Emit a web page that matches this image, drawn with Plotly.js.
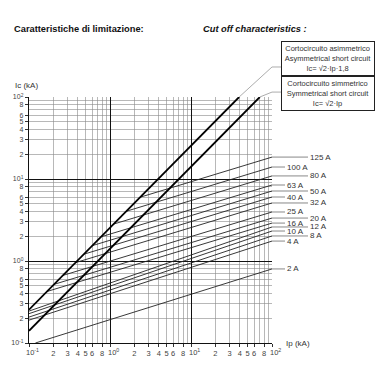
<!DOCTYPE html>
<html><head><meta charset="utf-8">
<script src="https://cdn.plot.ly/plotly-3.0.1.min.js"></script>
<style>body{margin:0;background:#fff}#c{width:380px;height:380px}</style>
</head><body><div id="c"></div>
<script>
// ---- data ----
const fuseNames = ['2 A','4 A','8 A','10 A','12 A','16 A','20 A','25 A','32 A','40 A','50 A','63 A','80 A','100 A','125 A'];
const fuseStartIp = [0.12, 0.1, 0.1, 0.1, 0.1, 0.167, 0.205, 0.262, 0.375, 0.476, 0.606, 0.772, 1.109, 1.586, 2.36];
const fuseStartIc = [0.1, 0.19, 0.207, 0.228, 0.245, 0.425, 0.52, 0.667, 0.955, 1.21, 1.54, 1.97, 2.82, 4.04, 6.0];
const fuseEndIp   = [100,100,100,100,100,100,100,100,100,100,100,100,100,100,100];
const fuseEndIc   = [0.80, 1.75, 2.02, 2.32, 2.60, 2.90, 3.34, 3.96, 5.10, 6.03, 7.14, 8.45, 10.9, 14.0, 18.5];
const labelColumn = [1, 1, 2, 1, 2, 1, 2, 1, 2, 1, 2, 1, 2, 1, 2];
const asymIp = [0.1, 39.3], asymIc = [0.255, 100];
const symIp  = [0.1, 70.7], symIc  = [0.141, 100];
const xTickVals = [0.2,0.3,0.4,0.5,0.6,0.8,2,3,4,5,6,8,20,30,40,50,60,80];
const xTickText = ['2','3','4','5','6','8','2','3','4','5','6','8','2','3','4','5','6','8'];
const yTickVals = [0.1,0.2,0.3,0.4,0.5,0.6,0.8,1,2,3,4,5,6,8,10,20,30,40,50,60,80,100];
const yTickText = ['10<sup>-1</sup>','2','3','4','5','6','8','10<sup>0</sup>','2','3','4','5','6','8','10<sup>1</sup>','2','3','4','5','6','8','10<sup>2</sup>'];
const minorVals = [0.7, 0.9, 7, 9, 70, 90];
const decadeVals = [0.1, 1, 10, 100];
const decadeText = ['10<sup>-1</sup>','10<sup>0</sup>','10<sup>1</sup>','10<sup>2</sup>'];

const F = 'Liberation Sans, Arial, sans-serif';
const traces = [{x:[0.1], y:[0.1], xaxis:'x2', yaxis:'y2', mode:'markers', marker:{opacity:0}, hoverinfo:'skip', showlegend:false}];
for (let i = 0; i < fuseNames.length; i++) {
  traces.push({x:[fuseStartIp[i], fuseEndIp[i]], y:[fuseStartIc[i], fuseEndIc[i]], mode:'lines',
    line:{color:'#222', width:0.9}, hoverinfo:'skip', showlegend:false});
}
traces.push({x:asymIp, y:asymIc, mode:'lines', line:{color:'#000', width:1.8}, showlegend:false});
traces.push({x:symIp, y:symIc, mode:'lines', line:{color:'#000', width:1.8}, showlegend:false});

const annotations = fuseNames.map((n,i)=>({x:2, y:Math.log10(fuseEndIc[i]), xref:'x', yref:'y', text:n,
  showarrow:true, arrowhead:0, arrowwidth:0.7, arrowcolor:'#555', ax: labelColumn[i]===1?13:36, ay:0,
  xanchor:'left', font:{family:F, size:8, color:'#333'}}));
decadeVals.forEach((v,i)=>annotations.push({x:Math.log10(v), xref:'x', yref:'paper', y:-0.037, text:decadeText[i],
  showarrow:false, xanchor:'center', yanchor:'middle', xshift:3, font:{family:F, size:7.5, color:'#444'}}));
annotations.push(
  {xref:'paper', yref:'paper', x:-0.012, y:1.045, text:'Ic (kA)', showarrow:false, xanchor:'center', yanchor:'middle', font:{family:F,size:8,color:'#333'}},
  {xref:'paper', yref:'y', x:1.05, y:-1, text:'Ip (kA)', showarrow:false, xanchor:'left', yanchor:'middle', font:{family:F,size:8,color:'#333'}},
  {xref:'paper', yref:'paper', x:-0.07, y:1.276, text:'<b>Caratteristiche di limitazione:</b>', showarrow:false, xanchor:'left', yanchor:'middle', font:{family:F,size:9.3,color:'#111'}},
  {xref:'paper', yref:'paper', x:0.708, y:1.276, text:'<b><i>Cut off characteristics :</i></b>', showarrow:false, xanchor:'left', yanchor:'middle', font:{family:F,size:9.3,color:'#111'}},
  {xref:'paper', yref:'paper', x:1.23, y:1.157, text:'Cortocircuito asimmetrico<br>Asymmetrical short circuit<br>Ic= √2·Ip·1,8', showarrow:false, xanchor:'center', yanchor:'middle', align:'center',
   bordercolor:'#222', borderwidth:1, borderpad:2, bgcolor:'#fff', width:88, font:{family:F,size:7.5,color:'#333'}},
  {xref:'paper', yref:'paper', x:1.23, y:1.014, text:'Cortocircuito simmetrico<br>Symmetrical short circuit<br>Ic= √2·Ip', showarrow:false, xanchor:'center', yanchor:'middle', align:'center',
   bordercolor:'#222', borderwidth:1, borderpad:2, bgcolor:'#fff', width:88, font:{family:F,size:7.5,color:'#333'}}
);

const shapes = [
  {type:'line', xref:'x', yref:'paper', x0:asymIp[1], y0:1, x1:100, y1:1.122, line:{color:'#888', width:0.7}},
  {type:'line', xref:'paper', yref:'paper', x0:1, y0:1.122, x1:1.04, y1:1.122, line:{color:'#888', width:0.7}},
  {type:'line', xref:'x', yref:'paper', x0:symIp[1], y0:1, x1:100, y1:1.02, line:{color:'#888', width:0.7}},
  {type:'line', xref:'paper', yref:'paper', x0:1, y0:1.02, x1:1.04, y1:1.02, line:{color:'#888', width:0.7}}
];

const axBase = {type:'log', range:[-1,2], tickangle:0, showgrid:true, gridcolor:'#888', gridwidth:0.6,
  zeroline:false, tickfont:{family:F, size:7.5, color:'#444'}, ticks:'outside', ticklen:3, tickcolor:'#333',
  showline:true, linecolor:'#111', linewidth:1.2,
  minor:{tickvals:minorVals, showgrid:true, gridcolor:'#888', gridwidth:0.6, ticks:''}};

const layout = {
  width:380, height:380, margin:{l:29, r:108, t:97, b:37}, paper_bgcolor:'#fff', plot_bgcolor:'#fff',
  xaxis: Object.assign({}, axBase, {tickvals:xTickVals, ticktext:xTickText}),
  yaxis: Object.assign({}, axBase, {tickvals:yTickVals, ticktext:yTickText, tickfont:{family:F, size:7, color:'#444'}}),
  xaxis2: {type:'log', range:[-1,2], overlaying:'x', tickvals:decadeVals, showticklabels:false, gridcolor:'#111', gridwidth:1, showline:false, zeroline:false, ticks:'outside', ticklen:3, tickcolor:'#333'},
  yaxis2: {type:'log', range:[-1,2], overlaying:'y', tickvals:decadeVals, showticklabels:false, gridcolor:'#111', gridwidth:1, showline:false, zeroline:false, ticks:''},
  annotations, shapes, showlegend:false
};
Plotly.newPlot('c', traces, layout, {staticPlot:true});
</script></body></html>
